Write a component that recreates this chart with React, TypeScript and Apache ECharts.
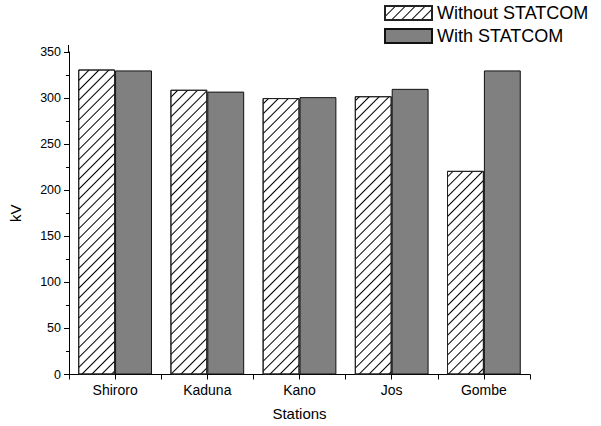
import React, { useEffect, useRef } from "react";
import * as echarts from "echarts";

// Bus voltage per station, in kV
const stations = ["Shiroro", "Kaduna", "Kano", "Jos", "Gombe"];
const withoutStatcom = [331, 309, 300, 302, 221];
const withStatcom = [330, 307, 301, 310, 330];
const yTicks = { min: 0, max: 350, interval: 50 };

const FONT = "Liberation Sans, Arial, sans-serif";

export default function App() {
  const ref = useRef<HTMLDivElement>(null);

  useEffect(() => {
    document.body.style.margin = "0";
    if (!ref.current) return;
    const chart = echarts.init(ref.current, undefined, { renderer: "svg" });

    const gridLeft = 68.5;
    const gridTop = 52;

    chart.setOption({
      animation: false,
      backgroundColor: "#ffffff",
      textStyle: { fontFamily: FONT, color: "#000" },
      legend: {
        orient: "vertical",
        left: 384,
        top: 4,
        padding: 0,
        itemWidth: 47,
        itemHeight: 14,
        itemGap: 5,
        icon: "rect",
        textStyle: { fontSize: 18, lineHeight: 18, fontFamily: FONT, color: "#000", padding: [0, 0, 0, 0] },
        data: ["Without STATCOM", "With STATCOM"],
      },
      grid: { left: gridLeft, right: 71, top: gridTop, bottom: 51.5, containLabel: false },
      xAxis: [
        {
          type: "category",
          data: stations,
          name: "Stations",
          nameLocation: "middle",
          nameGap: 31,
          nameTextStyle: { fontSize: 15, fontFamily: FONT, color: "#000" },
          axisLine: { lineStyle: { color: "#000", width: 1 } },
          axisTick: { show: true, inside: false, length: 5, lineStyle: { color: "#000" } },
          axisLabel: { fontSize: 14, color: "#000", fontFamily: FONT, margin: 8 },
        },
        {
          type: "category",
          data: stations,
          position: "bottom",
          axisLine: { show: false },
          axisTick: { show: true, alignWithLabel: true, length: 5, lineStyle: { color: "#000" } },
          axisLabel: { show: false },
        },
      ],
      yAxis: {
        type: "value",
        min: yTicks.min,
        max: yTicks.max,
        interval: yTicks.interval,
        name: "kV",
        nameLocation: "middle",
        nameGap: 46,
        nameRotate: 90,
        nameTextStyle: { fontSize: 15, fontFamily: FONT, color: "#000" },
        axisLine: { show: true, lineStyle: { color: "#000", width: 1 } },
        axisTick: { show: true, length: 5, lineStyle: { color: "#000" } },
        minorTick: { show: true, splitNumber: 2, length: 3, lineStyle: { color: "#000" } },
        splitLine: { show: false },
        axisLabel: { fontSize: 12.5, color: "#000", fontFamily: FONT, margin: 8 },
      },
      series: [
        {
          name: "Without STATCOM",
          type: "bar",
          data: withoutStatcom,
          barGap: "0%",
          barCategoryGap: "20%",
          itemStyle: {
            color: "#ffffff",
            borderColor: "#222",
            borderWidth: 1,
            decal: {
              symbol: "rect",
              symbolSize: 1,
              dashArrayX: [1, 0],
              dashArrayY: [0.8, 6],
              rotation: -Math.PI / 4,
              color: "#000",
            },
          },
        },
        {
          name: "With STATCOM",
          type: "bar",
          data: withStatcom,
          barGap: "0%",
          barCategoryGap: "20%",
          itemStyle: { color: "#808080", borderColor: "#111", borderWidth: 1 },
        },
      ],
      graphic: [
        {
          type: "line",
          shape: { x1: gridLeft, y1: gridTop - 7, x2: gridLeft, y2: gridTop },
          style: { stroke: "#000", lineWidth: 1 },
        },
      ],
    });

    return () => chart.dispose();
  }, []);

  return <div ref={ref} style={{ width: 601, height: 426 }} />;
}
